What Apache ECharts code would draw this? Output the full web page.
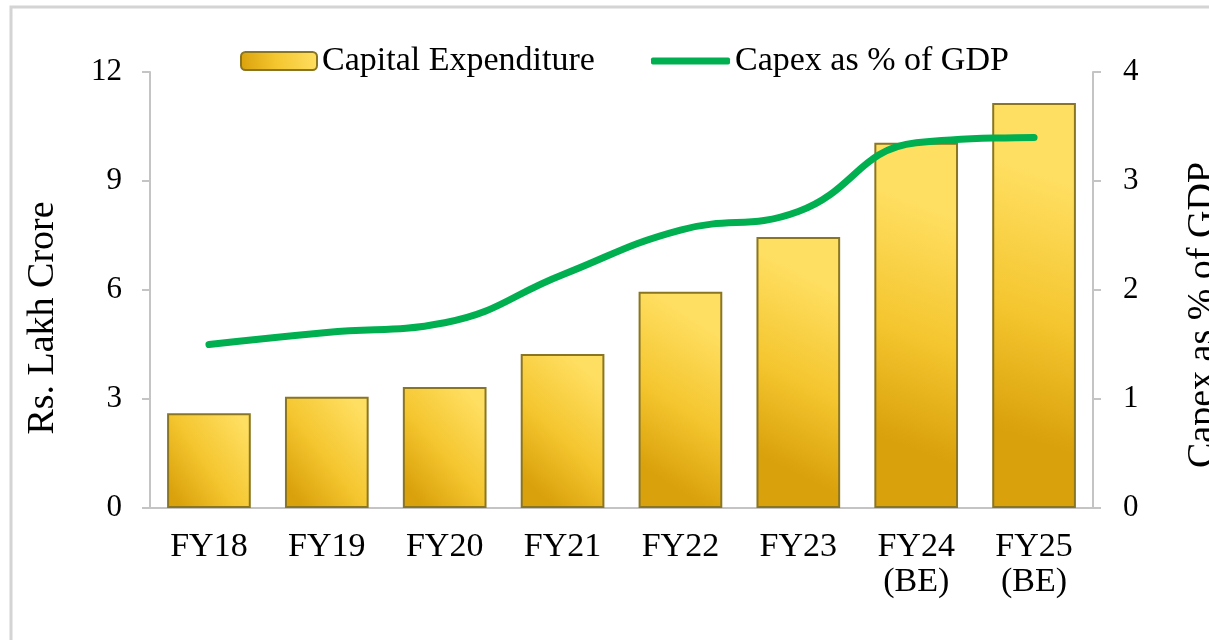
<!DOCTYPE html>
<html>
<head>
<meta charset="utf-8">
<script src="https://cdn.jsdelivr.net/npm/echarts@6/dist/echarts.min.js"></script>
<style>
  html, body { margin: 0; padding: 0; background: #fff; }
  #main { width: 1209px; height: 640px; }
</style>
</head>
<body>
<div id="main"></div>
<script>
// categories and series values
var categories = ['FY18', 'FY19', 'FY20', 'FY21', 'FY22', 'FY23', 'FY24\n(BE)', 'FY25\n(BE)'];
var capexValues = [2.61, 3.06, 3.33, 4.24, 5.95, 7.46, 10.05, 11.15]; // Rs. lakh crore
var gdpShare = [1.50, 1.61, 1.70, 2.14, 2.55, 2.72, 3.35, 3.40]; // % of GDP
var leftTicks = { min: 0, max: 12, interval: 3 };
var rightTicks = { min: 0, max: 4, interval: 1 };

var fontFamily = '"Liberation Serif", "Times New Roman", serif';
var axisGrey = '#C4C4C4';

var chart = echarts.init(document.getElementById('main'));

var option = {
  backgroundColor: '#fff',
  textStyle: { fontFamily: fontFamily, color: '#000' },
  graphic: [{
    type: 'rect',
    shape: { x: 11, y: 7, width: 1400, height: 800 },
    style: { fill: 'none', stroke: '#D4D4D4', lineWidth: 3 },
    silent: true
  }],
  // two legends so the line icon can be a thick stroke
  legend: [{
    top: 39,
    left: 235,
    itemWidth: 76,
    itemHeight: 18,
    itemGap: 6,
    textStyle: { fontFamily: fontFamily, fontSize: 34, color: '#000' },
    data: ['Capital Expenditure']
  }, {
    top: 39,
    left: 646,
    itemWidth: 79,
    itemHeight: 7,
    icon: 'roundRect',
    textStyle: { fontFamily: fontFamily, fontSize: 34, color: '#000' },
    data: ['Capex as % of GDP']
  }],
  grid: { left: 150, right: 116, top: 72, bottom: 132, outerBoundsMode: 'none' },
  xAxis: {
    type: 'category',
    data: categories,
    axisLine: { lineStyle: { color: axisGrey, width: 2 } },
    axisTick: { show: false },
    axisLabel: {
      color: '#000',
      fontFamily: fontFamily,
      fontSize: 34,
      lineHeight: 35,
      margin: 22
    }
  },
  yAxis: [{
    type: 'value',
    min: leftTicks.min,
    max: leftTicks.max,
    interval: leftTicks.interval,
    name: 'Rs. Lakh Crore',
    nameLocation: 'middle',
    nameRotate: 90,
    nameGap: 88,
    nameTextStyle: { fontFamily: fontFamily, fontSize: 38, color: '#000', padding: [0, 56, 0, 0] },
    axisLine: { show: true, lineStyle: { color: axisGrey, width: 2 } },
    axisTick: { show: true, length: 8, lineStyle: { color: axisGrey, width: 2 } },
    axisLabel: { color: '#000', fontFamily: fontFamily, fontSize: 31, margin: 28 },
    splitLine: { show: false }
  }, {
    type: 'value',
    position: 'right',
    min: rightTicks.min,
    max: rightTicks.max,
    interval: rightTicks.interval,
    name: 'Capex as % of GDP',
    nameLocation: 'middle',
    nameRotate: 90,
    nameGap: 91,
    nameTextStyle: { fontFamily: fontFamily, fontSize: 38, color: '#000', padding: [0, 50, 0, 0] },
    axisLine: { show: true, lineStyle: { color: axisGrey, width: 2 } },
    axisTick: { show: true, length: 8, lineStyle: { color: axisGrey, width: 2 } },
    axisLabel: { color: '#000', fontFamily: fontFamily, fontSize: 31, margin: 30 },
    splitLine: { show: false }
  }],
  series: [{
    name: 'Capital Expenditure',
    type: 'bar',
    yAxisIndex: 0,
    data: capexValues,
    barCategoryGap: '29%',
    itemStyle: {
      color: {
        type: 'linear', x: 0, y: 0.8, x2: 1, y2: 0.2,
        colorStops: [
          { offset: 0, color: '#D9A10C' },
          { offset: 0.45, color: '#F4C52E' },
          { offset: 1, color: '#FFDF62' }
        ]
      },
      borderColor: '#8A7520',
      borderWidth: 2
    }
  }, {
    name: 'Capex as % of GDP',
    type: 'line',
    yAxisIndex: 1,
    data: gdpShare,
    smooth: 0.45,
    symbol: 'none',
    lineStyle: { color: '#00B050', width: 7, cap: 'round' },
    itemStyle: { color: '#00B050' }
  }]
};

chart.setOption(option);
</script>
</body>
</html>
